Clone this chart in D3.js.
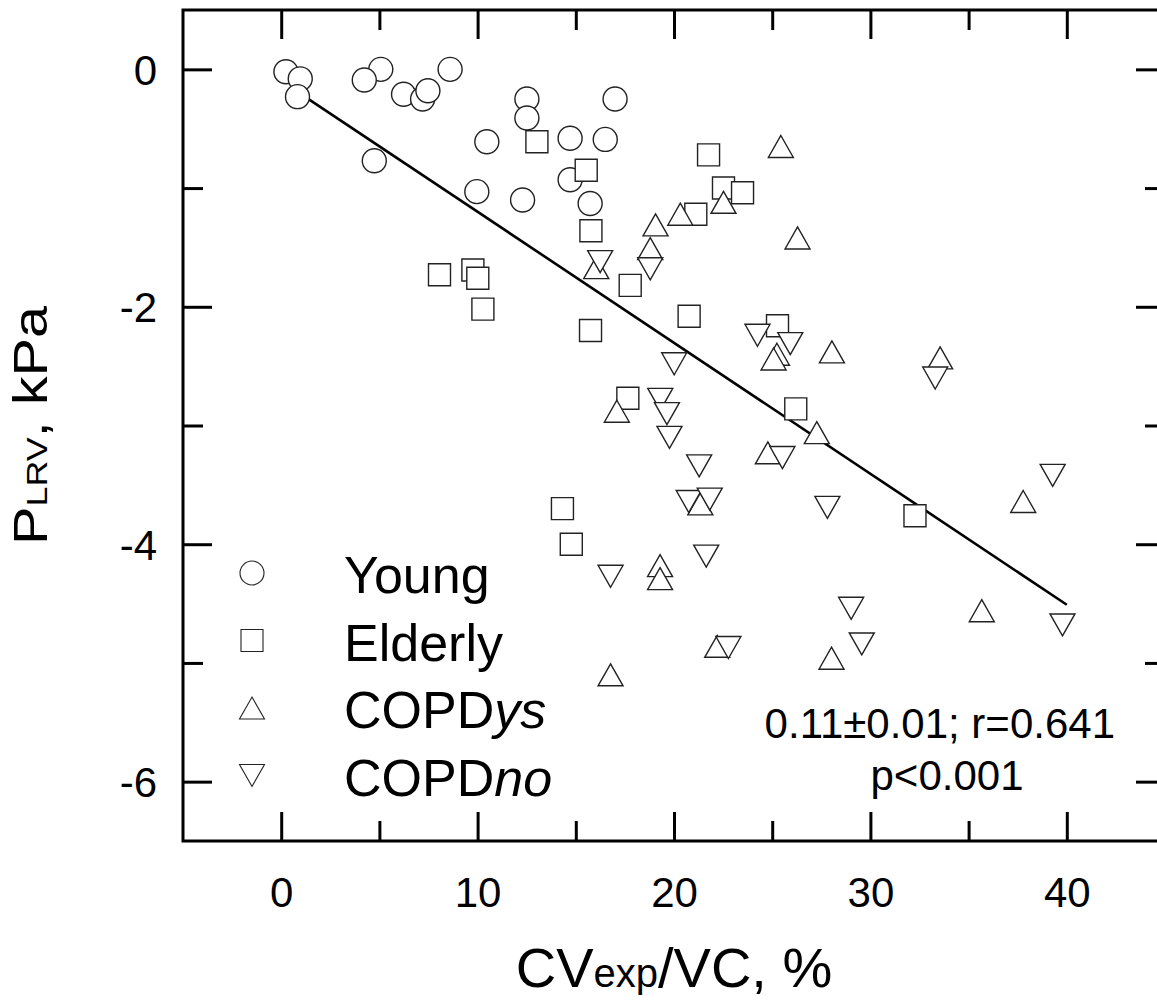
<!DOCTYPE html>
<html>
<head>
<meta charset="utf-8">
<script src="https://cdn.jsdelivr.net/npm/d3@7"></script>
<style>
  body { margin: 0; background: #fff; }
  svg { display: block; }
  text { font-family: Arial, "Liberation Sans", sans-serif; fill: #000; }
</style>
</head>
<body>
<div id="chart"></div>
<script>
// data: [CVexp/VC %, PLRV kPa]
const young = [
  [0.24, -0.02], [0.97, -0.08], [0.83, -0.23], [5.07, 0.0], [4.23, -0.09],
  [6.23, -0.21], [7.2, -0.25], [7.47, -0.18], [8.6, 0.0], [4.74, -0.77],
  [12.51, -0.25], [12.51, -0.41], [10.47, -0.61], [9.96, -1.03], [12.29, -1.10],
  [14.71, -0.58], [16.5, -0.59], [14.71, -0.93], [15.73, -1.13], [17.0, -0.25]
];
const elderly = [
  [13.02, -0.61], [15.53, -0.85], [21.76, -0.72], [22.52, -1.0], [23.49, -1.04],
  [21.11, -1.22], [15.77, -1.36], [8.06, -1.73], [9.76, -1.69], [10.01, -1.76],
  [10.27, -2.02], [17.77, -1.82], [15.75, -2.20], [20.77, -2.08], [25.27, -2.16],
  [17.65, -2.77], [26.2, -2.86], [14.32, -3.70], [14.77, -4.00], [32.27, -3.76]
];
const copdYs = [
  [25.44, -0.65], [19.06, -1.31], [20.32, -1.22], [22.52, -1.12], [26.29, -1.42],
  [18.79, -1.51], [16.04, -1.67], [25.24, -2.40], [25.07, -2.44], [28.04, -2.38],
  [17.09, -2.88], [27.27, -3.06], [24.78, -3.23], [21.34, -3.66], [37.78, -3.64],
  [19.29, -4.18], [19.29, -4.29], [35.67, -4.56], [22.2, -4.86], [28.02, -4.96],
  [16.77, -5.10], [33.55, -2.43]
];
const copdNo = [
  [16.24, -1.62], [18.79, -1.68], [24.25, -2.24], [25.92, -2.31], [20.01, -2.48],
  [19.3, -2.78], [19.64, -2.90], [19.77, -3.10], [21.28, -3.34], [25.52, -3.27],
  [20.75, -3.64], [21.82, -3.62], [27.81, -3.69], [39.28, -3.42], [21.64, -4.10],
  [16.77, -4.27], [29.02, -4.54], [39.78, -4.68], [22.77, -4.87], [29.56, -4.84],
  [33.3, -2.60]
];
// regression line ends
const fitLine = [[0.8, -0.185], [40.0, -4.51]];

const xMajor = [0, 10, 20, 30, 40];
const xMinor = [5, 15, 25, 35];
const yMajor = [0, -2, -4, -6];
const yMinor = [-1, -3, -5];

const groups = [
  { name: "Young", sub: "", shape: "circle", pts: young },
  { name: "Elderly", sub: "", shape: "square", pts: elderly },
  { name: "COPD", sub: "ys", shape: "up", pts: copdYs },
  { name: "COPD", sub: "no", shape: "down", pts: copdNo }
];

const width = 1157, height = 1002;
const plot = { left: 183, top: 10, right: 1165, bottom: 841 };

const svg = d3.select("#chart").append("svg")
  .attr("width", width)
  .attr("height", height);

const x = d3.scaleLinear().domain([-5, 45]).range([plot.left, plot.right]);
const y = d3.scaleLinear().domain([-6.5, 0.5]).range([plot.bottom, plot.top]);

// marker shapes, centred on their bounding box
const markerPath = (shape, s) => {
  if (shape === "circle") {
    const r = s.r;
    return `M${r},0A${r},${r} 0 1,1 ${-r},0A${r},${r} 0 1,1 ${r},0Z`;
  }
  if (shape === "square") {
    const h = s.sq / 2;
    return `M${-h},${-h}H${h}V${h}H${-h}Z`;
  }
  const w = s.tw / 2, h = s.th / 2;
  if (shape === "up") return `M0,${-h}L${w},${h}L${-w},${h}Z`;
  return `M0,${h}L${w},${-h}L${-w},${-h}Z`;
};
const dataSize = { r: 12, sq: 22, tw: 25, th: 22 };

// axes: ticks point inward on all four sides
const tickLen = { major: 29, minor: 20 };
const addAxis = (axisFn, scale, vals, len, translate, labels) => {
  const g = svg.append("g")
    .attr("transform", translate)
    .call(axisFn(scale).tickValues(vals).tickSize(-len).tickSizeOuter(0)
      .tickFormat(labels ? d3.format("d") : ""));
  g.select(".domain").remove();
  g.selectAll(".tick line").attr("stroke", "#000").attr("stroke-width", 3);
  return g;
};

const xb = addAxis(d3.axisBottom, x, xMajor, tickLen.major, `translate(0,${plot.bottom})`, true);
addAxis(d3.axisBottom, x, xMinor, tickLen.minor, `translate(0,${plot.bottom})`, false);
addAxis(d3.axisTop, x, xMajor, -tickLen.major, `translate(0,${plot.top})`, false)
  .selectAll(".tick line").attr("y2", tickLen.major);
addAxis(d3.axisTop, x, xMinor, -tickLen.minor, `translate(0,${plot.top})`, false)
  .selectAll(".tick line").attr("y2", tickLen.minor);
const yl = addAxis(d3.axisLeft, y, yMajor, tickLen.major, `translate(${plot.left},0)`, true);
addAxis(d3.axisLeft, y, yMinor, tickLen.minor, `translate(${plot.left},0)`, false);
addAxis(d3.axisRight, y, yMajor, tickLen.major, `translate(${plot.right},0)`, false);
addAxis(d3.axisRight, y, yMinor, tickLen.minor, `translate(${plot.right},0)`, false);

xb.selectAll(".tick text")
  .attr("y", 66)
  .attr("dy", 0)
  .style("font-size", "42px")
  .style("font-family", "Arial, 'Liberation Sans', sans-serif");
yl.selectAll(".tick text")
  .attr("x", -26)
  .attr("dy", "0.36em")
  .style("font-size", "42px")
  .style("font-family", "Arial, 'Liberation Sans', sans-serif")
  .text(d => d3.format("d")(d).replace("−", "-"));

// frame
svg.append("rect")
  .attr("x", plot.left)
  .attr("y", plot.top)
  .attr("width", plot.right - plot.left)
  .attr("height", plot.bottom - plot.top)
  .attr("fill", "none")
  .attr("stroke", "#000")
  .attr("stroke-width", 3);

// regression line
svg.append("path")
  .datum(fitLine)
  .attr("d", d3.line().x(d => x(d[0])).y(d => y(d[1])))
  .attr("fill", "none")
  .attr("stroke", "#000")
  .attr("stroke-width", 2.6);

// points
groups.forEach(gr => {
  svg.append("g")
    .selectAll("path")
    .data(gr.pts)
    .enter()
    .append("path")
    .attr("transform", d => `translate(${x(d[0])},${y(d[1])})`)
    .attr("d", markerPath(gr.shape, dataSize))
    .attr("fill", "#fff")
    .attr("stroke", "#222")
    .attr("stroke-width", 1.4);
});

// legend
const legendRows = [573, 640.5, 708, 775.5];
const leg = svg.append("g");
groups.forEach((gr, i) => {
  leg.append("path")
    .attr("transform", `translate(252,${legendRows[i]})`)
    .attr("d", markerPath(gr.shape, dataSize))
    .attr("fill", "#fff")
    .attr("stroke", "#222")
    .attr("stroke-width", 1.1);
  const t = leg.append("text")
    .attr("x", 344)
    .attr("y", legendRows[i] + 20)
    .style("font-size", "52px");
  t.append("tspan").text(gr.name);
  if (gr.sub) t.append("tspan").style("font-style", "italic").text(gr.sub);
});

// fit annotation
svg.append("text")
  .attr("x", 1115)
  .attr("y", 738)
  .attr("text-anchor", "end")
  .style("font-size", "42px")
  .text("0.11±0.01; r=0.641");
svg.append("text")
  .attr("x", 947)
  .attr("y", 790)
  .attr("text-anchor", "middle")
  .style("font-size", "42px")
  .text("p<0.001");

// axis titles
const xt = svg.append("text")
  .attr("x", (plot.left + plot.right) / 2)
  .attr("y", 987)
  .attr("text-anchor", "middle")
  .style("font-size", "56px");
xt.append("tspan").text("CV");
xt.append("tspan").style("font-size", "40px").text("exp");
xt.append("tspan").text("/VC, %");

const yt = svg.append("text")
  .attr("transform", `translate(47,${(plot.top + plot.bottom) / 2}) rotate(-90) scale(1.2,1)`)
  .attr("text-anchor", "middle")
  .style("font-size", "48px");
yt.append("tspan").text("P");
yt.append("tspan").style("font-size", "30px").text("LRV");
yt.append("tspan").text(", kPa");
</script>
</body>
</html>
